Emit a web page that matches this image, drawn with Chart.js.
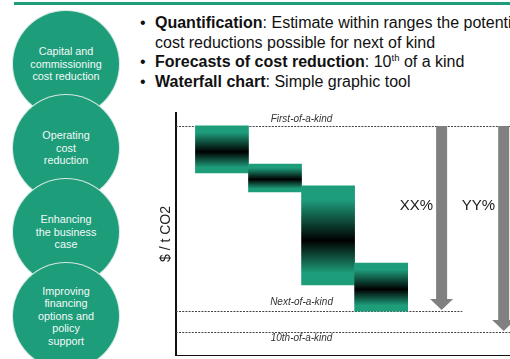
<!DOCTYPE html>
<html lang="en">
<head>
<meta charset="UTF-8" />
<title>Cost reduction waterfall</title>
<script src="https://cdn.jsdelivr.net/npm/chart.js"></script>
<style>
    html, body { margin: 0; padding: 0; }
    body {
        width: 510px; height: 359px; overflow: hidden; position: relative;
        background: #fff; font-family: "Liberation Sans", Arial, sans-serif;
    }
    #topline { position: absolute; left: 14px; top: 2px; width: 496px; height: 3px; background: #1e9d7b; }
    .circle {
        position: absolute; left: 13px; width: 106px; height: 106px; border-radius: 50%;
        background: #1e9d7b; box-shadow: 0 0 0 1px #d3e9e1;
        display: flex; align-items: center; justify-content: center; text-align: center;
        color: #f2faf7; font-size: 10.8px; line-height: 12.5px;
    }
    #bullets { position: absolute; left: 140px; top: 13px; font-size: 16px; line-height: 19.5px; color: #111; white-space: nowrap; }
    #bullets .item { position: relative; padding-left: 15px; }
    #bullets .item::before { content: "\2022"; position: absolute; left: 0; }
    #bullets sup { font-size: 9.5px; line-height: 0; vertical-align: 6px; }
    #chart-wrap { position: absolute; left: 155px; top: 112px; }
</style>
</head>
<body>
<div id="topline"></div>
<div id="circles"></div>
<div id="bullets">
    <div class="item"><b>Quantification</b>: Estimate within ranges the potential<br>cost reductions possible for next of kind</div>
    <div class="item"><b>Forecasts of cost reduction</b>: 10<sup>th</sup> of a kind</div>
    <div class="item"><b>Waterfall chart</b>: Simple graphic tool</div>
</div>
<div id="chart-wrap"><canvas id="waterfall" width="380" height="244"></canvas></div>

<script>
    // reduction steps (also the circles on the left)
    const categories = [
        ['Capital and', 'commissioning', 'cost reduction'],
        ['Operating', 'cost', 'reduction'],
        ['Enhancing', 'the business', 'case'],
        ['Improving', 'financing', 'options and', 'policy', 'support']
    ];
    // range of each step, $ / t CO2 (no scale shown, read as 0-100)
    const barLow  = [75.0, 67.2, 29.1, 18.4];
    const barHigh = [94.3, 78.7, 69.7, 38.1];

    const levelNames  = ['First-of-a-kind', 'Next-of-a-kind', '10th-of-a-kind'];
    const levelValues = [94.3, 18.4, 9.8];

    const arrowLabels = ['XX%', 'YY%'];
    const arrowTargets = [1, 2]; // arrow goes from first level down to this level

    const teal = '#1e9d7b';
    const grey = '#808080';

    // circles
    const circleBox = document.getElementById('circles');
    categories.forEach((lines, i) => {
        const d = document.createElement('div');
        d.className = 'circle';
        d.style.top = (11 + i * 84) + 'px';
        d.innerHTML = '<div>' + lines.join('<br>') + '</div>';
        circleBox.appendChild(d);
    });

    function barGradient(context) {
        const {ctx, chartArea, scales} = context.chart;
        if (!chartArea || context.dataIndex == null) return teal;
        const i = context.dataIndex;
        const top = scales.y.getPixelForValue(barHigh[i]);
        const bottom = scales.y.getPixelForValue(barLow[i]);
        const g = ctx.createLinearGradient(0, top, 0, bottom);
        g.addColorStop(0, teal);
        g.addColorStop(0.14, teal);
        g.addColorStop(0.55, '#000');
        g.addColorStop(0.88, teal);
        g.addColorStop(1, teal);
        return g;
    }

    const overlay = {
        id: 'overlay',
        beforeDatasetsDraw(chart, args, opts) {
            const {ctx, chartArea, scales: {x, y}} = chart;
            const mid = x.getPixelForValue((1 + categories.length) / 2);
            ctx.save();
            ctx.setLineDash([2, 1.2]);
            ctx.strokeStyle = '#444';
            ctx.lineWidth = 1;
            levelValues.forEach((v, i) => {
                const py = Math.round(y.getPixelForValue(v)) + 0.5;
                const end = opts.lineEnds[i] == null ? chartArea.right : x.getPixelForValue(opts.lineEnds[i]);
                ctx.beginPath();
                ctx.moveTo(chartArea.left, py);
                ctx.lineTo(end, py);
                ctx.stroke();
            });
            ctx.setLineDash([]);
            ctx.font = 'italic 10px "Liberation Sans", Arial, sans-serif';
            ctx.fillStyle = '#333';
            ctx.textAlign = 'center';
            ctx.textBaseline = 'middle';
            levelValues.forEach((v, i) => {
                ctx.fillText(levelNames[i], mid, y.getPixelForValue(v) + opts.labelOffsets[i]);
            });
            ctx.restore();
        },
        afterDatasetsDraw(chart, args, opts) {
            const {ctx, scales: {x, y}} = chart;
            ctx.save();
            arrowLabels.forEach((label, i) => {
                const cx = x.getPixelForValue(opts.arrowX[i]);
                const top = y.getPixelForValue(levelValues[0]);
                const tip = y.getPixelForValue(levelValues[arrowTargets[i]]) - 1;
                const sw = 5.5, hw = 11.5, hh = 11;
                ctx.fillStyle = grey;
                ctx.beginPath();
                ctx.moveTo(cx - sw, top);
                ctx.lineTo(cx + sw, top);
                ctx.lineTo(cx + sw, tip - hh);
                ctx.lineTo(cx + hw, tip - hh);
                ctx.lineTo(cx, tip);
                ctx.lineTo(cx - hw, tip - hh);
                ctx.lineTo(cx - sw, tip - hh);
                ctx.closePath();
                ctx.fill();

                ctx.fillStyle = '#1a1a1a';
                ctx.font = '15px "Liberation Sans", Arial, sans-serif';
                ctx.textAlign = 'right';
                ctx.textBaseline = 'middle';
                ctx.fillText(label, cx - sw - 3, y.getPixelForValue(opts.labelAt));
            });
            ctx.restore();
        }
    };

    Chart.defaults.font.family = '"Liberation Sans", Arial, sans-serif';

    new Chart(document.getElementById('waterfall'), {
        type: 'bar',
        data: {
            datasets: [{
                data: categories.map((c, i) => ({x: i + 1, y: [barLow[i], barHigh[i]]})),
                backgroundColor: barGradient,
                borderWidth: 0,
                barThickness: 'flex',
                categoryPercentage: 1,
                barPercentage: 1
            }]
        },
        options: {
            responsive: false,
            animation: false,
            events: [],
            plugins: {
                legend: { display: false },
                tooltip: { enabled: false },
                overlay: {
                    lineEnds: [null, 5.53, null],
                    labelOffsets: [-7, -9, 6],
                    arrowX: [5.14, 6.31],
                    labelAt: 61.5
                }
            },
            scales: {
                x: {
                    type: 'linear',
                    offset: false,
                    min: 0.13,
                    max: 6.9,
                    ticks: { display: false },
                    grid: { display: false, drawTicks: false },
                    border: { color: '#111', width: 2 }
                },
                y: {
                    min: 0,
                    max: 100,
                    ticks: { display: false },
                    grid: { display: false, drawTicks: false },
                    border: { color: '#111', width: 2 },
                    title: {
                        display: true,
                        text: '$ / t CO2',
                        color: '#222',
                        font: { size: 14 },
                        padding: { top: 3, bottom: 1 }
                    }
                }
            }
        },
        plugins: [overlay]
    });
</script>
</body>
</html>
